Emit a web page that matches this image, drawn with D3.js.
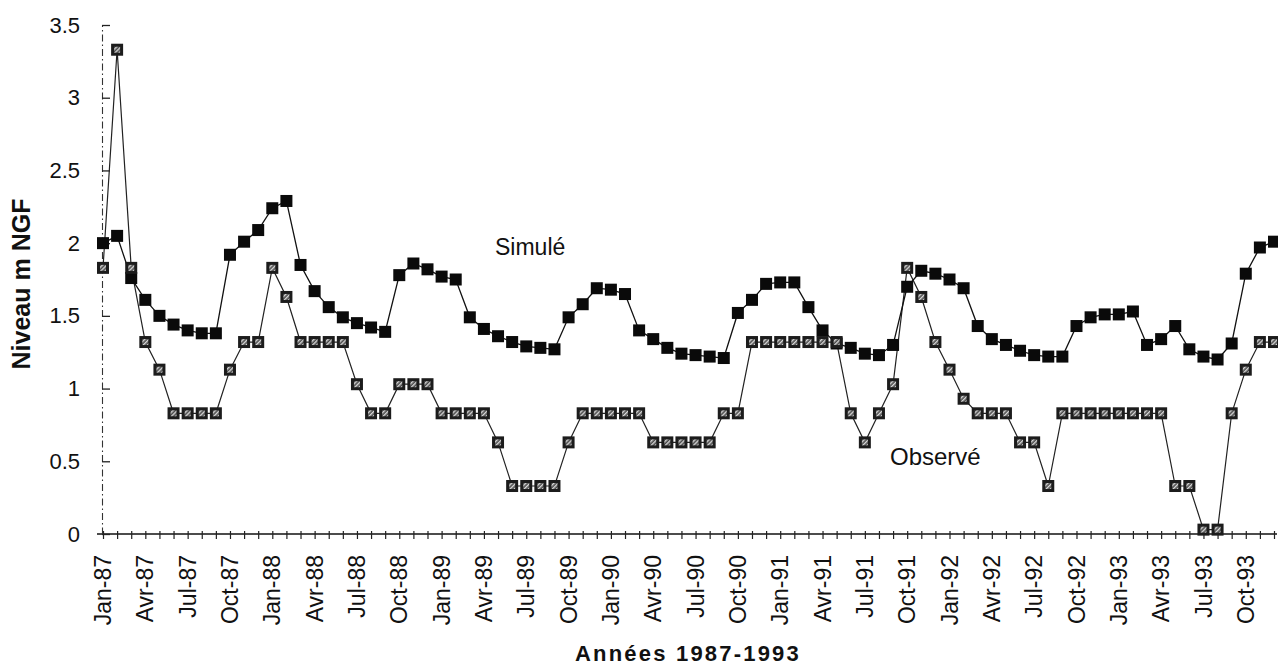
<!DOCTYPE html>
<html>
<head>
<meta charset="utf-8">
<script src="https://cdn.jsdelivr.net/npm/d3@7"></script>
<style>
  html, body { margin: 0; padding: 0; background: #fff; }
  svg { display: block; font-family: "Liberation Sans", Arial, Helvetica, sans-serif; }
</style>
</head>
<body>
<svg id="chart" width="1278" height="670"></svg>
<script>
// Monthly water level, January 1987 – December 1993 (m NGF)
const months = d3.range(84); // 0 = Jan-87 ... 83 = Dec-93

const simule = [
  2.00, 2.05, 1.76, 1.61, 1.50, 1.44, 1.40, 1.38, 1.38, 1.92, 2.01, 2.09,
  2.24, 2.29, 1.85, 1.67, 1.56, 1.49, 1.45, 1.42, 1.39, 1.78, 1.86, 1.82,
  1.77, 1.75, 1.49, 1.41, 1.36, 1.32, 1.29, 1.28, 1.27, 1.49, 1.58, 1.69,
  1.68, 1.65, 1.40, 1.34, 1.28, 1.24, 1.23, 1.22, 1.21, 1.52, 1.61, 1.72,
  1.73, 1.73, 1.56, 1.40, 1.31, 1.28, 1.24, 1.23, 1.30, 1.70, 1.81, 1.79,
  1.75, 1.69, 1.43, 1.34, 1.30, 1.26, 1.23, 1.22, 1.22, 1.43, 1.49, 1.51,
  1.51, 1.53, 1.30, 1.34, 1.43, 1.27, 1.22, 1.20, 1.31, 1.79, 1.97, 2.01
];

const observe = [
  1.83, 3.33, 1.83, 1.32, 1.13, 0.83, 0.83, 0.83, 0.83, 1.13, 1.32, 1.32,
  1.83, 1.63, 1.32, 1.32, 1.32, 1.32, 1.03, 0.83, 0.83, 1.03, 1.03, 1.03,
  0.83, 0.83, 0.83, 0.83, 0.63, 0.33, 0.33, 0.33, 0.33, 0.63, 0.83, 0.83,
  0.83, 0.83, 0.83, 0.63, 0.63, 0.63, 0.63, 0.63, 0.83, 0.83, 1.32, 1.32,
  1.32, 1.32, 1.32, 1.32, 1.32, 0.83, 0.63, 0.83, 1.03, 1.83, 1.63, 1.32,
  1.13, 0.93, 0.83, 0.83, 0.83, 0.63, 0.63, 0.33, 0.83, 0.83, 0.83, 0.83,
  0.83, 0.83, 0.83, 0.83, 0.33, 0.33, 0.03, 0.03, 0.83, 1.13, 1.32, 1.32
];

// Quarterly tick labels (every third month)
const xTickMonths = d3.range(0, 84, 3);
const xTickLabels = [
  "Jan-87", "Avr-87", "Jul-87", "Oct-87",
  "Jan-88", "Avr-88", "Jul-88", "Oct-88",
  "Jan-89", "Avr-89", "Jul-89", "Oct-89",
  "Jan-90", "Avr-90", "Jul-90", "Oct-90",
  "Jan-91", "Avr-91", "Jul-91", "Oct-91",
  "Jan-92", "Avr-92", "Jul-92", "Oct-92",
  "Jan-93", "Avr-93", "Jul-93", "Oct-93"
];

const yTickValues = [0, 0.5, 1, 1.5, 2, 2.5, 3, 3.5];
const yTickLabels = ["0", "0.5", "1", "1.5", "2", "2.5", "3", "3.5"];

const seriesLabels = { sim: "Simulé", obs: "Observé" };
const xTitle = "Années 1987-1993";
const yTitle = "Niveau m NGF";

const svg = d3.select("#chart");

const x = d3.scaleLinear().domain([0, 83]).range([103, 1274]);
const y = d3.scaleLinear().domain([0, 3.5]).range([534, 25]);

// Speckled fill for the centre of the observed markers
const defs = svg.append("defs");
const pat = defs.append("pattern")
  .attr("id", "speckle")
  .attr("patternUnits", "userSpaceOnUse")
  .attr("width", 3).attr("height", 3)
  .attr("patternTransform", "rotate(45)");
pat.append("rect").attr("width", 3).attr("height", 3).attr("fill", "#4a4a4a");
pat.append("rect").attr("width", 1.4).attr("height", 3).attr("fill", "#d8d8d8");

// X axis: a tick every month, crossing the baseline
const xAxis = d3.axisBottom(x)
  .tickValues(months)
  .tickSize(5)
  .tickSizeOuter(0)
  .tickFormat("");
const gx = svg.append("g")
  .attr("transform", `translate(0,${y(0)})`)
  .call(xAxis);
gx.select(".domain")
  .attr("d", `M97,0H1277`)
  .attr("stroke", "#111")
  .attr("stroke-width", 1.6);
gx.selectAll(".tick line")
  .attr("y1", -3)
  .attr("stroke", "#222")
  .attr("stroke-width", 1.2);

// Quarterly labels, rotated
const gxl = svg.append("g");
gxl.selectAll("text")
  .data(xTickMonths)
  .join("text")
  .attr("transform", d => `translate(${x(d)},555) rotate(-90)`)
  .attr("text-anchor", "end")
  .attr("dy", "0.35em")
  .attr("font-size", 23)
  .attr("fill", "#111")
  .text((d, i) => xTickLabels[i]);

// Y axis with dash-dot spine
const yAxis = d3.axisLeft(y)
  .tickValues(yTickValues)
  .tickSize(5)
  .tickSizeOuter(0)
  .tickPadding(17)
  .tickFormat((d, i) => yTickLabels[i]);
const gy = svg.append("g")
  .attr("transform", "translate(102,0)")
  .call(yAxis);
gy.select(".domain")
  .attr("stroke", "#333")
  .attr("stroke-width", 1.1)
  .attr("stroke-dasharray", "7,3,1.5,3");
gy.selectAll(".tick line")
  .attr("x2", 8)
  .attr("stroke", "#222")
  .attr("stroke-width", 1.3);
gy.selectAll(".tick text")
  .attr("font-size", 22)
  .attr("font-family", "'Liberation Sans', Arial, sans-serif")
  .attr("fill", "#111");

// Series lines
const line = d3.line()
  .x((d, i) => x(months[i]))
  .y(d => y(d));

svg.append("path")
  .datum(observe)
  .attr("fill", "none")
  .attr("stroke", "#222")
  .attr("stroke-width", 1.2)
  .attr("d", line);

svg.append("path")
  .datum(simule)
  .attr("fill", "none")
  .attr("stroke", "#111")
  .attr("stroke-width", 1.3)
  .attr("d", line);

// Markers
const size = 12;
const inner = 6;
svg.append("g")
  .selectAll("rect")
  .data(simule)
  .join("rect")
  .attr("x", (d, i) => x(months[i]) - size / 2)
  .attr("y", d => y(d) - size / 2)
  .attr("width", size)
  .attr("height", size)
  .attr("fill", "#0a0a0a");

const obsG = svg.append("g")
  .selectAll("g")
  .data(observe)
  .join("g")
  .attr("transform", (d, i) => `translate(${x(months[i])},${y(d)})`);
obsG.append("rect")
  .attr("x", -size / 2).attr("y", -size / 2)
  .attr("width", size).attr("height", size)
  .attr("fill", "#1c1c1c");
obsG.append("rect")
  .attr("x", -inner / 2).attr("y", -inner / 2)
  .attr("width", inner).attr("height", inner)
  .attr("fill", "url(#speckle)");

// Series annotations
svg.append("text")
  .attr("x", 495).attr("y", 255)
  .attr("font-size", 23)
  .attr("fill", "#111")
  .text(seriesLabels.sim);

svg.append("text")
  .attr("x", 890).attr("y", 465)
  .attr("font-size", 24)
  .attr("fill", "#111")
  .text(seriesLabels.obs);

// Axis titles
svg.append("text")
  .attr("x", 688).attr("y", 661)
  .attr("text-anchor", "middle")
  .attr("font-size", 22)
  .attr("font-weight", "bold")
  .attr("letter-spacing", "2.2px")
  .attr("fill", "#111")
  .text(xTitle);

svg.append("text")
  .attr("transform", "translate(30,284) rotate(-90)")
  .attr("text-anchor", "middle")
  .attr("font-size", 25)
  .attr("font-weight", "bold")
  .attr("fill", "#111")
  .text(yTitle);
</script>
</body>
</html>
